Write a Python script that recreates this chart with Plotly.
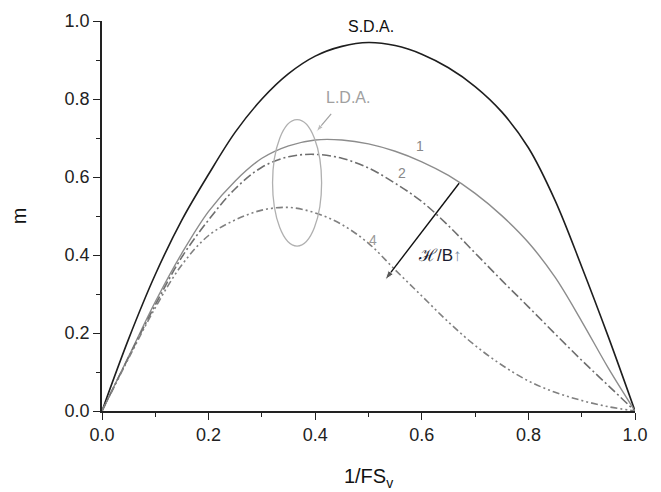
import plotly.graph_objects as go

# common abscissa (1/FS_v) for all curves
x_vals = [0.0, 0.05, 0.1, 0.15, 0.2, 0.25, 0.3, 0.35, 0.4, 0.45, 0.5,
          0.55, 0.6, 0.65, 0.7, 0.75, 0.8, 0.85, 0.9, 0.95, 1.0]

# S.D.A. curve
m_sda = [0, 0.185, 0.35, 0.49, 0.607, 0.715, 0.80, 0.865, 0.91, 0.935, 0.945,
         0.937, 0.915, 0.88, 0.832, 0.767, 0.675, 0.54, 0.37, 0.19, 0]
# curve 1 (L.D.A.)
m_1 = [0, 0.14, 0.28, 0.405, 0.512, 0.59, 0.648, 0.68, 0.695, 0.695, 0.685,
       0.666, 0.639, 0.604, 0.558, 0.501, 0.432, 0.343, 0.23, 0.11, 0]
# curve 2
m_2 = [0, 0.138, 0.272, 0.395, 0.49, 0.57, 0.625, 0.652, 0.658, 0.648, 0.623,
       0.584, 0.537, 0.475, 0.405, 0.335, 0.267, 0.198, 0.13, 0.065, 0]
# curve 4
m_4 = [0, 0.135, 0.265, 0.375, 0.45, 0.49, 0.515, 0.522, 0.508, 0.478, 0.43,
       0.362, 0.295, 0.228, 0.168, 0.118, 0.077, 0.048, 0.027, 0.011, 0]

x_ticks = [0.0, 0.2, 0.4, 0.6, 0.8, 1.0]
x_ticklabels = ["0.0", "0.2", "0.4", "0.6", "0.8", "1.0"]
y_ticks = [0.0, 0.2, 0.4, 0.6, 0.8, 1.0]
y_ticklabels = ["0.0", "0.2", "0.4", "0.6", "0.8", "1.0"]

# arrows: (tail, head)
lda_arrow_x = [0.430, 0.402]
lda_arrow_y = [0.762, 0.716]
hb_arrow_x = [0.670, 0.531]
hb_arrow_y = [0.584, 0.336]

FONT = "Arial, Liberation Sans, sans-serif"

fig = go.Figure()
SM = 1.0
fig.add_trace(go.Scatter(x=x_vals, y=m_sda, mode="lines", line=dict(color="#1e1e1e", width=1.6, shape="spline", smoothing=SM), showlegend=False))
fig.add_trace(go.Scatter(x=x_vals, y=m_1, mode="lines", line=dict(color="#8c8c8c", width=1.4, shape="spline", smoothing=SM), showlegend=False))
fig.add_trace(go.Scatter(x=x_vals, y=m_2, mode="lines", line=dict(color="#6e6e6e", width=1.6, dash="9px,3px,2px,3px", shape="spline", smoothing=SM), showlegend=False))
fig.add_trace(go.Scatter(x=x_vals, y=m_4, mode="lines", line=dict(color="#808080", width=1.6, dash="7px,3px,2px,3px,2px,3px", shape="spline", smoothing=SM), showlegend=False))

# arrows as line + arrow marker
fig.add_trace(go.Scatter(x=lda_arrow_x, y=lda_arrow_y, mode="lines+markers",
                         line=dict(color="#a0a0a0", width=1.2),
                         marker=dict(symbol=["circle", "arrow"], size=[0, 8], color="#a0a0a0", angleref="previous"),
                         showlegend=False, hoverinfo="skip"))
fig.add_trace(go.Scatter(x=hb_arrow_x, y=hb_arrow_y, mode="lines+markers",
                         line=dict(color="#111111", width=1.4),
                         marker=dict(symbol=["circle", "arrow"], size=[0, 10], color="#111111", angleref="previous"),
                         showlegend=False, hoverinfo="skip"))

# L.D.A. ellipse
fig.add_shape(type="circle", xref="x", yref="y", x0=0.320, x1=0.412, y0=0.423, y1=0.747,
              line=dict(color="#b0b0b0", width=1.3))

anns = [
    dict(x=0.505, y=0.985, text="S.D.A.", font=dict(size=16, color="#111111")),
    dict(x=0.461, y=0.805, text="L.D.A.", font=dict(size=16, color="#a0a0a0")),
    dict(x=0.597, y=0.680, text="1", font=dict(size=14, color="#888888")),
    dict(x=0.562, y=0.611, text="2", font=dict(size=14, color="#888888")),
    dict(x=0.509, y=0.438, text="4", font=dict(size=14, color="#999999")),
    dict(x=0.634, y=0.40, text="ℋ/B<span style='color:#7a8aa0'>↑</span>", font=dict(size=17, color="#1c1c30")),
]
for a in anns:
    fig.add_annotation(xref="x", yref="y", showarrow=False, **a)

axis_common = dict(
    range=[0, 1], showline=True, linecolor="#222222", linewidth=1.6, mirror=False,
    ticks="outside", ticklen=7, tickwidth=1.4, tickcolor="#222222",
    showgrid=False, zeroline=False, automargin=False,
    minor=dict(dtick=0.1, ticks="outside", ticklen=4, tickwidth=1.2, tickcolor="#222222", showgrid=False),
    tickfont=dict(family=FONT, size=18, color="#222222"),
)

fig.update_xaxes(tickvals=x_ticks, ticktext=x_ticklabels,
                 title=dict(text="1/FS<sub>v</sub>", font=dict(family=FONT, size=20, color="#111111"), standoff=25),
                 **axis_common)
fig.update_yaxes(tickvals=y_ticks, ticktext=y_ticklabels,
                 title=dict(text="m", font=dict(family=FONT, size=20, color="#111111"), standoff=38),
                 **axis_common)

fig.update_layout(
    width=661, height=492,
    margin=dict(l=94, r=34, t=13, b=89),
    paper_bgcolor="white", plot_bgcolor="white",
    font=dict(family=FONT),
)

fig.write_html("out.html")
